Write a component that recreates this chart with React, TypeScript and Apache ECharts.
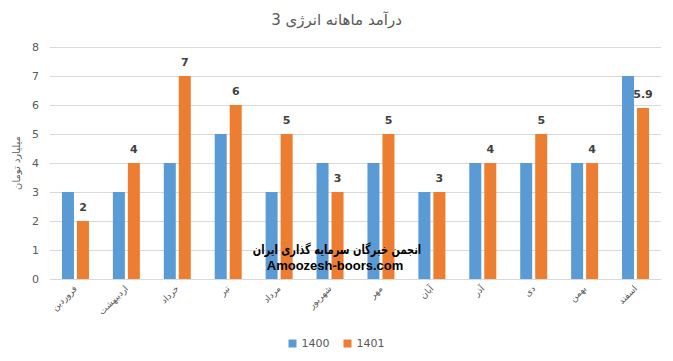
import React, { useEffect, useRef } from "react";
import * as echarts from "echarts";

const categories = ["فروردین", "اردیبهشت", "خرداد", "تیر", "مرداد", "شهریور", "مهر", "آبان", "آذر", "دی", "بهمن", "اسفند"];
const series1400 = [3, 3, 4, 5, 3, 4, 4, 3, 4, 4, 4, 7];
const series1401 = [2, 4, 7, 6, 5, 3, 5, 3, 4, 5, 4, 5.9];
const yTicks = { min: 0, max: 8, interval: 1 };

export default function App() {
  const ref = useRef<HTMLDivElement>(null);
  useEffect(() => {
    const chart = echarts.init(ref.current!, null, { renderer: "svg" });
    const font = "'DejaVu Sans', 'Noto Sans', sans-serif";
    chart.setOption({
      animation: false,
      textStyle: { fontFamily: font },
      title: {
        text: "درآمد ماهانه انرژی 3",
        left: "center",
        top: 7,
        textStyle: { fontSize: 15, fontWeight: "normal", color: "#595959", fontFamily: font },
      },
      legend: {
        bottom: 7,
        left: "center",
        itemWidth: 8,
        itemHeight: 8,
        itemGap: 14,
        icon: "rect",
        textStyle: { fontSize: 11, color: "#595959", fontFamily: font },
        data: ["1400", "1401"],
      },
      grid: { left: 50, right: 12, top: 47, bottom: 82, containLabel: false },
      xAxis: {
        type: "category",
        data: categories,
        axisLine: { lineStyle: { color: "#d9d9d9" } },
        axisTick: { show: false },
        axisLabel: { rotate: 45, fontSize: 9, color: "#595959", margin: 8, interval: 0, fontFamily: font },
      },
      yAxis: {
        type: "value",
        min: yTicks.min,
        max: yTicks.max,
        interval: yTicks.interval,
        name: "میلیارد تومان",
        nameLocation: "middle",
        nameGap: 19,
        nameRotate: 90,
        nameTextStyle: { fontSize: 10, color: "#595959", fontFamily: font },
        axisLine: { show: false },
        axisTick: { show: false },
        axisLabel: { fontSize: 11, color: "#595959", margin: 11, fontFamily: font },
        splitLine: { lineStyle: { color: "#d9d9d9" } },
      },
      series: [
        {
          name: "1400",
          type: "bar",
          data: series1400,
          barWidth: 12,
          barGap: "25%",
          itemStyle: { color: "#5B9BD5" },
        },
        {
          name: "1401",
          type: "bar",
          data: series1401,
          barWidth: 12,
          itemStyle: { color: "#ED7D31" },
          label: {
            show: true,
            position: "top",
            distance: 8,
            fontSize: 11,
            fontWeight: "bold",
            color: "#404040",
            fontFamily: font,
          },
        },
      ],
      graphic: [
        {
          type: "text",
          x: 337,
          y: 249,
          z: 100,
          scaleX: 0.76,
          style: {
            text: "انجمن خبرگان سرمایه گذاری ایران",
            fontSize: 13,
            fontWeight: "bold",
            fill: "#000",
            textAlign: "center",
            textVerticalAlign: "middle",
            fontFamily: font,
          },
        },
        {
          type: "text",
          x: 335,
          y: 265,
          z: 100,
          style: {
            text: "Amoozesh-boors.com",
            fontSize: 13,
            fontWeight: "bold",
            fill: "#000",
            textAlign: "center",
            textVerticalAlign: "middle",
            fontFamily: "'Liberation Sans', Arial, sans-serif",
          },
        },
      ],
    });
    return () => chart.dispose();
  }, []);
  return <div ref={ref} style={{ width: 673, height: 361, margin: -8 }} />;
}
